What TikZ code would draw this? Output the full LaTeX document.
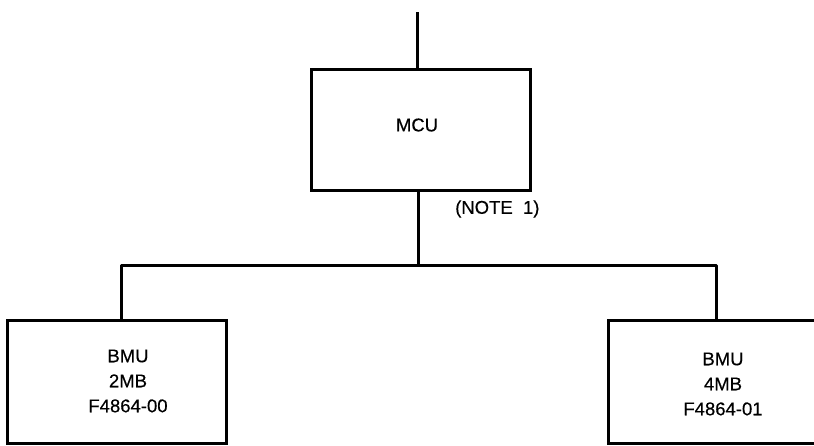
\documentclass[tikz,border=0pt]{standalone}
\usepackage{fontspec}
\setmainfont{Liberation Sans}[FakeBold=0.4]
\begin{document}
\begin{tikzpicture}[x=1pt,y=-1pt,
  box/.style={draw, line width=3pt, inner sep=0pt, rectangle},
  lbl/.style={font=\fontsize{18.5}{25}\selectfont, align=center, inner sep=0pt},
  wire/.style={line width=3pt}]
\useasboundingbox (0,0) rectangle (814,445);
\clip (0,0) rectangle (814,445);
% boxes
\node[box, minimum width=219pt, minimum height=121pt] (mcu) at (420.5,129.5) {};
\node[box, minimum width=219pt, minimum height=123pt] (L) at (116.5,381.5) {};
\node[box, minimum width=232pt, minimum height=123pt] (R) at (724,381.5) {};
% texts
\node[lbl] (mcut) at (417,125) {MCU};
\node[lbl] (Lt) at (128,381) {BMU\\2MB\\F4864-00};
\node[lbl] (Rt) at (723,384) {BMU\\4MB\\F4864-01};
\node[lbl, anchor=west] (note) at (455,209) {(NOTE\ \ 1)};
% connectors
\coordinate (top) at (417,12);
\coordinate (mid) at (418,265);
\coordinate (bl) at (121,265);
\coordinate (br) at (716,265);
\draw[wire] (top) -- (top |- mcu.north);
\draw[wire] (mid |- mcu.south) -- (mid);
\draw[wire, line join=round] (bl |- L.north) -- (bl) -- (br) -- (br |- R.north);
\end{tikzpicture}
\end{document}
